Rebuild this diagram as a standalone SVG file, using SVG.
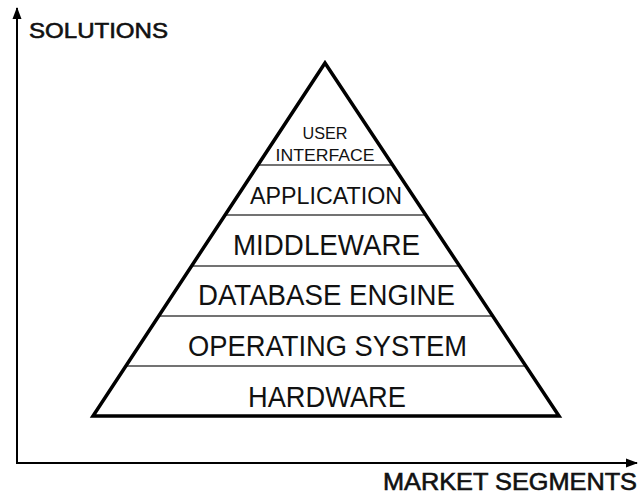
<svg xmlns="http://www.w3.org/2000/svg" width="638" height="496" viewBox="0 0 638 496">
  <style>
    .lbl { font-family: "Liberation Sans", Arial, sans-serif; fill: #111; text-anchor: middle; }
    .ax { font-family: "Liberation Sans", Arial, sans-serif; fill: #111; stroke: #111; stroke-width: 0.6; }
    .div { stroke: #444; stroke-width: 1.5; fill: none; }
    .axis { stroke: #000; stroke-width: 2; fill: none; }
  </style>
  <defs>
    <marker id="arr" markerWidth="12" markerHeight="10" refX="11" refY="5" orient="auto" markerUnits="userSpaceOnUse">
      <path d="M0,0.5 L12,5 L0,9.5 Z" fill="#000"/>
    </marker>
  </defs>
  <rect width="638" height="496" fill="#fff"/>

  <g id="connectors">
    <path class="axis" d="M17,463 L17,8" marker-end="url(#arr)"/>
    <path class="axis" d="M16,463 L637,463" marker-end="url(#arr)"/>
  </g>

  <g id="pyramid">
    <line class="div" x1="258" y1="165" x2="392.6" y2="165"/>
    <line class="div" x1="225.1" y1="215" x2="425.8" y2="215"/>
    <line class="div" x1="191.6" y1="266" x2="459.6" y2="266"/>
    <line class="div" x1="158.7" y1="316" x2="492.7" y2="316"/>
    <line class="div" x1="125.9" y1="366" x2="525.9" y2="366"/>
    <path d="M325,63 L559,416 L93,416 Z" fill="none" stroke="#000" stroke-width="3.5" stroke-linejoin="miter"/>
  </g>

  <g id="user-interface">
    <text class="lbl" x="325" y="139" font-size="17" textLength="45" lengthAdjust="spacingAndGlyphs">USER</text>
    <text class="lbl" x="325" y="161" font-size="17" textLength="99" lengthAdjust="spacingAndGlyphs">INTERFACE</text>
  </g>
  <g id="application">
    <text class="lbl" x="326" y="204" font-size="23" textLength="152" lengthAdjust="spacingAndGlyphs">APPLICATION</text>
  </g>
  <g id="middleware">
    <text class="lbl" x="326.5" y="255" font-size="29" textLength="187" lengthAdjust="spacingAndGlyphs">MIDDLEWARE</text>
  </g>
  <g id="database-engine">
    <text class="lbl" x="326.5" y="305" font-size="30" textLength="257" lengthAdjust="spacingAndGlyphs">DATABASE ENGINE</text>
  </g>
  <g id="operating-system">
    <text class="lbl" x="327.5" y="356" font-size="30" textLength="279" lengthAdjust="spacingAndGlyphs">OPERATING SYSTEM</text>
  </g>
  <g id="hardware">
    <text class="lbl" x="327" y="407" font-size="30" textLength="158" lengthAdjust="spacingAndGlyphs">HARDWARE</text>
  </g>

  <g id="axis-labels">
    <text class="ax" x="29" y="38" font-size="22" textLength="139" lengthAdjust="spacingAndGlyphs">SOLUTIONS</text>
    <text class="ax" x="383" y="490" font-size="24" textLength="254" lengthAdjust="spacingAndGlyphs">MARKET SEGMENTS</text>
  </g>
</svg>
